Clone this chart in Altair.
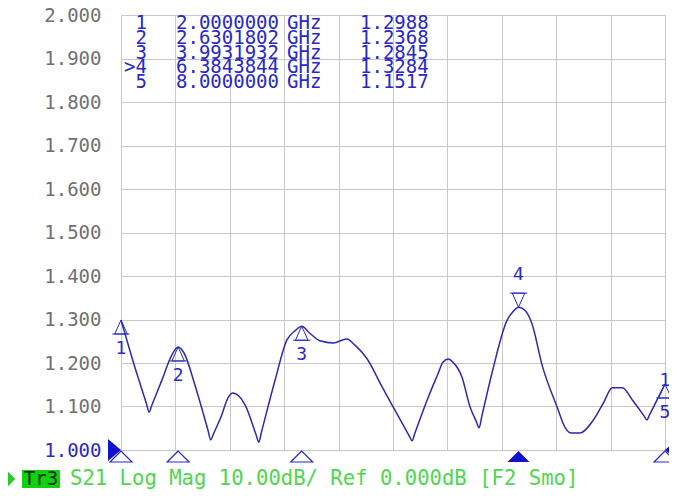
import altair as alt
import pandas as pd

# ---- trace data (GHz, linear magnitude) ----
freq = [2.00, 2.155, 2.28, 2.31, 2.34, 2.45, 2.56, 2.63, 2.695, 2.816, 2.96, 2.99, 3.02,
        3.11, 3.18, 3.235, 3.30, 3.37, 3.49, 3.52, 3.55, 3.70, 3.83, 3.92, 3.993, 4.08,
        4.195, 4.34, 4.49, 4.58, 4.71, 4.88, 5.02, 5.18, 5.21, 5.24, 5.39, 5.50, 5.55,
        5.61, 5.66, 5.76, 5.85, 5.92, 5.95, 5.98, 6.10, 6.26, 6.32, 6.384, 6.46, 6.53,
        6.65, 6.81, 6.90, 6.97, 7.06, 7.21, 7.32, 7.42, 7.53, 7.64, 7.77, 7.80, 7.83,
        7.90, 8.00]
vals = [1.2988, 1.189, 1.107, 1.087, 1.103, 1.160, 1.218, 1.2368, 1.223, 1.149, 1.045,
        1.023, 1.037, 1.080, 1.120, 1.131, 1.124, 1.103, 1.035, 1.018, 1.042, 1.161,
        1.253, 1.274, 1.2845, 1.269, 1.251, 1.246, 1.255, 1.241, 1.211, 1.145, 1.092,
        1.032, 1.021, 1.038, 1.122, 1.177, 1.202, 1.209, 1.202, 1.168, 1.099, 1.065,
        1.051, 1.078, 1.184, 1.299, 1.317, 1.3284, 1.320, 1.292, 1.191, 1.099, 1.051,
        1.039, 1.039, 1.069, 1.108, 1.143, 1.143, 1.115, 1.078, 1.069, 1.081, 1.110,
        1.1517]

# ---- markers ----
m_names = ["1", "2", "3", ">4", "5"]
m_ids = ["1", "2", "3", "4", "5"]
m_freq = [2.0000000, 2.6301802, 3.9931932, 6.3843844, 8.0000000]
m_freq_txt = ["2.0000000", "2.6301802", "3.9931932", "6.3843844", "8.0000000"]
m_val = [1.2988, 1.2368, 1.2845, 1.3284, 1.1517]
m_active = [False, False, False, True, False]

x_grid = [2.0, 2.6, 3.2, 3.8, 4.4, 5.0, 5.6, 6.2, 6.8, 7.4, 8.0]
y_grid = [1.0, 1.1, 1.2, 1.3, 1.4, 1.5, 1.6, 1.7, 1.8, 1.9, 2.0]

FONT = "DejaVu Sans Mono"
BLUE = "#2828c8"
TRACE = "#2b2bb0"

trace_df = pd.DataFrame({"f": freq, "v": vals})
mk_df = pd.DataFrame({"f": m_freq, "v": m_val, "id": m_ids, "active": m_active})

x_enc = alt.X("f:Q", scale=alt.Scale(domain=[2, 8], nice=False, zero=False),
              axis=alt.Axis(values=x_grid, grid=True, labels=False, ticks=False,
                            domain=False, title=None, gridColor="#c8c8c8"))
y_enc = alt.Y("v:Q", scale=alt.Scale(domain=[1, 2], nice=False, zero=False),
              axis=alt.Axis(values=y_grid, grid=True, ticks=False, domain=False,
                            title=None, format=".3f", labelPadding=20,
                            labelFont=FONT, labelFontSize=19,
                            labelColor=alt.condition("datum.value <= 1.0001",
                                                     alt.value(BLUE), alt.value("#707070")),
                            gridColor="#c8c8c8"))

trace = alt.Chart(trace_df).mark_line(color=TRACE, strokeWidth=1.5,
                                      interpolate="monotone").encode(x=x_enc, y=y_enc)

UP = "M0,0L-0.45,1L0.45,1Z M-0.62,1L0.62,1"
DOWN = "M0,0L-0.45,-1L0.45,-1Z M-0.62,-1L0.62,-1"

up_mk = alt.Chart(mk_df).transform_filter("!datum.active").mark_point(
    shape=UP, size=784, filled=False, color=BLUE, strokeWidth=1, opacity=1
).encode(x=x_enc, y=y_enc)
down_mk = alt.Chart(mk_df).transform_filter("datum.active").mark_point(
    shape=DOWN, size=784, filled=False, color=BLUE, strokeWidth=1, opacity=1
).encode(x=x_enc, y=y_enc)

up_lbl = alt.Chart(mk_df).transform_filter("!datum.active").mark_text(
    font=FONT, fontSize=18, color=BLUE, dy=29, baseline="middle"
).encode(x=x_enc, y=y_enc, text="id:N")
down_lbl = alt.Chart(mk_df).transform_filter("datum.active").mark_text(
    font=FONT, fontSize=18, color=BLUE, dy=-32, baseline="middle"
).encode(x=x_enc, y=y_enc, text="id:N")
extra_lbl = alt.Chart(mk_df).transform_filter("datum.id == '5'").mark_text(
    font=FONT, fontSize=18, color=BLUE, dx=0, dy=-3, baseline="middle", text="1"
).encode(x=x_enc, y=y_enc)

# markers under the x axis
BASE_TRI = "M0,0L-1,1L1,1Z"
bot_open = alt.Chart(mk_df).transform_filter("!datum.active").mark_point(
    shape=BASE_TRI, size=484, filled=False, color=BLUE, strokeWidth=1.2, opacity=1
).encode(x=x_enc, y=alt.value(436))
bot_fill = alt.Chart(mk_df).transform_filter("datum.active").mark_point(
    shape=BASE_TRI, size=484, filled=True, color="#1010d0", opacity=1
).encode(x=x_enc, y=alt.value(436))

one = pd.DataFrame({"a": [0]})
ref_left = alt.Chart(one).mark_point(
    shape="M0,0L-1,-0.85L-1,0.85Z", size=676, filled=True, color="#1010d0", opacity=1
).encode(x=alt.value(0), y=alt.value(435))
ref_right = alt.Chart(one).mark_point(
    shape="M0,0L1,-0.85L1,0.85Z", size=676, filled=True, color="#1010d0", opacity=1
).encode(x=alt.value(544), y=alt.value(435))

# marker table
ROW_H = 14.8
TOP = 8
col_names = alt.Chart(one).mark_text(
    font=FONT, fontSize=19, color=BLUE, align="right", baseline="middle",
    lineBreak="\n", lineHeight=ROW_H, text="\n".join(m_names)
).encode(x=alt.value(26), y=alt.value(TOP))
col_freq = alt.Chart(one).mark_text(
    font=FONT, fontSize=19, color=BLUE, align="left", baseline="middle",
    lineBreak="\n", lineHeight=ROW_H, text="\n".join(m_freq_txt)
).encode(x=alt.value(55), y=alt.value(TOP))
col_unit = alt.Chart(one).mark_text(
    font=FONT, fontSize=19, color=BLUE, align="left", baseline="middle",
    lineBreak="\n", lineHeight=ROW_H, text="\n".join(["GHz"] * 5)
).encode(x=alt.value(166), y=alt.value(TOP))
col_val = alt.Chart(one).mark_text(
    font=FONT, fontSize=19, color=BLUE, align="left", baseline="middle",
    lineBreak="\n", lineHeight=ROW_H, text="\n".join(f"{v:.4f}" for v in m_val)
).encode(x=alt.value(239), y=alt.value(TOP))

# status line
GREEN = "#22cc22"
st_tri = alt.Chart(one).mark_point(
    shape="M0.5,0L-0.5,-1L-0.5,1Z", size=289, filled=True, color=GREEN, opacity=1
).encode(x=alt.value(-110), y=alt.value(464))
st_box = alt.Chart(one).mark_rect(color="#11d011").encode(
    x=alt.value(-99), x2=alt.value(-61), y=alt.value(455), y2=alt.value(473))
st_tr = alt.Chart(one).mark_text(
    font=FONT, fontSize=19, color="#0b2e0b", align="center", baseline="middle", text="Tr3"
).encode(x=alt.value(-80), y=alt.value(464))
st_txt = alt.Chart(one).mark_text(
    font=FONT, fontSize=20.6, color="#4fd64f", align="left", baseline="middle",
    text="S21 Log Mag 10.00dB/ Ref 0.000dB [F2 Smo]"
).encode(x=alt.value(-51), y=alt.value(464))

chart = alt.layer(
    trace, up_mk, down_mk, up_lbl, down_lbl, extra_lbl, bot_open, bot_fill,
    ref_left, ref_right, col_names, col_freq, col_unit, col_val,
    st_tri, st_box, st_tr, st_txt
).properties(
    width=544, height=435,
    autosize=alt.AutoSizeParams(type="none"),
    padding={"left": 113, "top": 7, "right": 4, "bottom": 44},
).configure_view(
    stroke="#707070", strokeWidth=1
).configure(background="white")

chart.save("out.html", embed_options={"renderer": "svg", "actions": False})
